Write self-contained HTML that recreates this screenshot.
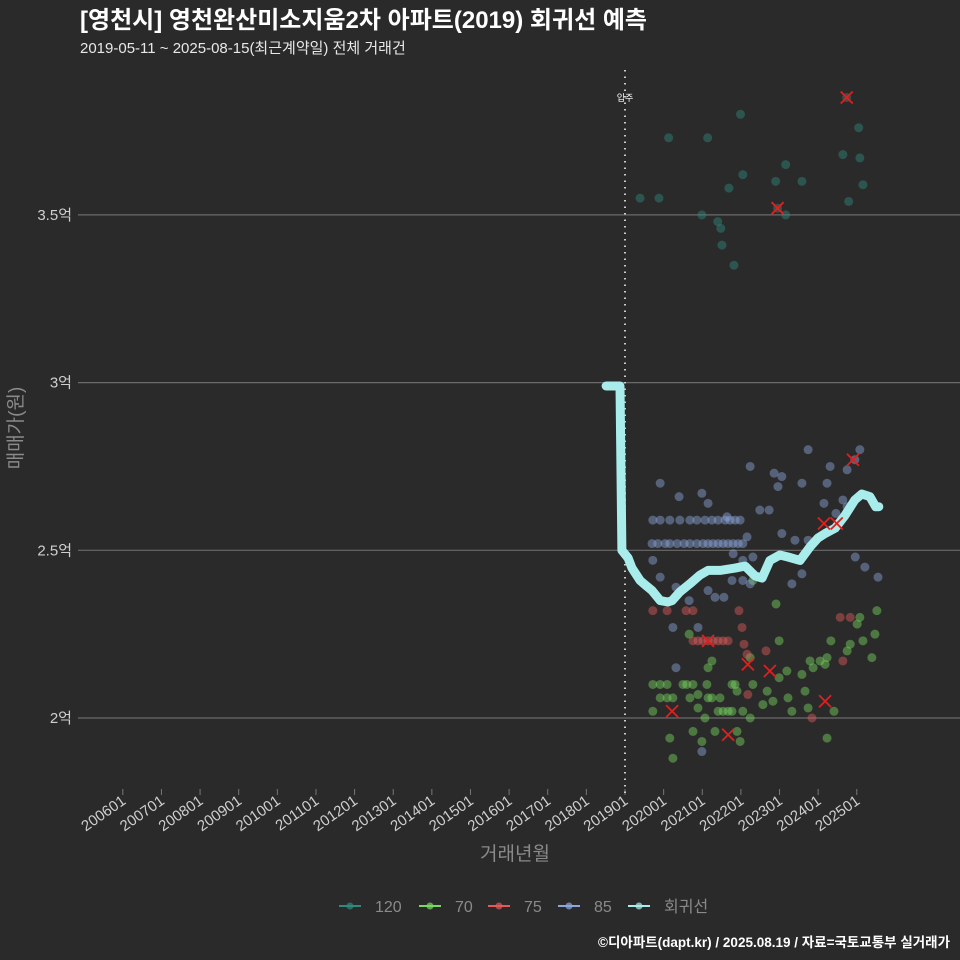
<!DOCTYPE html>
<html><head><meta charset="utf-8">
<style>
html,body{margin:0;padding:0;background:#2a2a2a;}
svg{display:block;font-family:"Liberation Sans","Noto Sans CJK KR",sans-serif;}
</style></head>
<body>
<svg id="chart" width="960" height="960" viewBox="0 0 960 960" xmlns="http://www.w3.org/2000/svg">
<rect width="960" height="960" fill="#2a2a2a"/>
<text x="80" y="28" fill="#ffffff" font-size="24" font-weight="bold">[영천시] 영천완산미소지움2차 아파트(2019) 회귀선 예측</text>
<text x="80" y="53" fill="#e8e8e8" font-size="15">2019-05-11 ~ 2025-08-15(최근계약일) 전체 거래건</text>
<g id="grid"></g>
<g id="yaxis"></g>
<g id="xaxis"></g>
<g id="points"></g>
<g id="regline"></g>
<g id="xmarks"></g>
<text transform="translate(22,428) rotate(-90)" text-anchor="middle" fill="#8a8a8a" font-size="19">매매가(원)</text>
<text x="515" y="860" text-anchor="middle" fill="#8a8a8a" font-size="19">거래년월</text>
<g id="legend"></g>
<text x="950" y="947" text-anchor="end" fill="#ffffff" font-size="13.5" font-weight="bold">©디아파트(dapt.kr) / 2025.08.19 / 자료=국토교통부 실거래가</text>
</svg>
<script>
const yTicks = [2, 2.5, 3, 3.5];
const yTickLabels = ["2억", "2.5억", "3억", "3.5억"];
const xTickYears = [2006,2007,2008,2009,2010,2011,2012,2013,2014,2015,2016,2017,2018,2019,2020,2021,2022,2023,2024,2025];
const xTickLabels = ["200601","200701","200801","200901","201001","201101","201201","201301","201401","201501","201601","201701","201801","201901","202001","202101","202201","202301","202401","202501"];
const moveInYear = 2019;
const series120 = [[2019.39,3.55],[2019.88,3.55],[2020.13,3.73],[2021.14,3.73],[2021.99,3.80],[2020.99,3.50],[2021.40,3.48],[2021.48,3.46],[2021.51,3.41],[2021.82,3.35],[2022.05,3.62],[2021.69,3.58],[2022.90,3.60],[2023.58,3.60],[2023.16,3.65],[2022.95,3.52],[2023.16,3.50],[2024.64,3.68],[2025.05,3.76],[2025.08,3.67],[2025.16,3.59],[2024.79,3.54],[2024.74,3.85]];
const series70 = [[2019.72,2.10],[2019.91,2.10],[2020.09,2.10],[2020.50,2.10],[2020.60,2.10],[2020.76,2.10],[2021.12,2.10],[2021.77,2.10],[2021.85,2.10],
[2019.91,2.06],[2020.09,2.06],[2020.24,2.06],[2020.68,2.06],[2021.15,2.06],[2021.25,2.06],[2021.46,2.06],
[2019.72,2.02],[2021.41,2.02],[2021.54,2.02],[2021.67,2.02],[2021.77,2.02],[2022.05,2.02],
[2020.24,1.88],[2020.16,1.94],[2020.76,1.96],[2020.99,1.93],[2021.33,1.96],[2021.90,1.96],[2021.98,1.93],[2022.24,2.00],
[2022.91,2.34],[2022.31,2.41],[2022.99,2.23],[2021.15,2.15],[2021.25,2.17],[2022.24,2.18],[2022.99,2.12],[2023.19,2.14],[2023.58,2.13],[2023.79,2.17],[2024.23,2.18],[2024.33,2.23],[2024.75,2.20],[2024.83,2.22],[2025.16,2.23],[2025.47,2.25],[2025.52,2.32],[2025.08,2.30],[2025.39,2.18],[2025.01,2.28],
[2022.68,2.08],[2022.83,2.05],[2023.22,2.06],[2023.66,2.08],[2023.74,2.03],[2024.41,2.02],[2024.23,1.94],[2023.32,2.02],[2022.57,2.04],[2020.89,2.03],[2021.07,2.00],[2021.90,2.08],[2022.31,2.10],[2020.66,2.25],[2020.89,2.07],[2024.18,2.16],[2024.05,2.17],[2023.87,2.15]];
const series75 = [[2019.72,2.32],[2020.09,2.32],[2020.58,2.32],[2020.76,2.32],[2021.95,2.32],[2022.03,2.27],[2022.08,2.22],[2022.16,2.19],[2022.65,2.20],[2024.57,2.30],[2024.83,2.30],[2024.64,2.17],[2023.84,2.00],[2022.18,2.07],
[2020.76,2.23],[2020.89,2.23],[2021.02,2.23],[2021.15,2.23],[2021.28,2.23],[2021.41,2.23],[2021.54,2.23],[2021.67,2.23]];
const series85 = [[2019.72,2.59],[2019.91,2.59],[2020.16,2.59],[2020.42,2.59],[2020.68,2.59],[2020.86,2.59],[2021.07,2.59],[2021.25,2.59],[2021.41,2.59],[2021.59,2.59],[2021.72,2.59],[2021.85,2.59],[2021.98,2.59],
[2019.70,2.52],[2019.85,2.52],[2020.04,2.52],[2020.16,2.52],[2020.35,2.52],[2020.53,2.52],[2020.68,2.52],[2020.86,2.52],[2021.02,2.52],[2021.15,2.52],[2021.28,2.52],[2021.41,2.52],[2021.54,2.52],[2021.67,2.52],[2021.80,2.52],[2021.93,2.52],[2022.05,2.52],
[2019.91,2.70],[2020.40,2.66],[2020.99,2.67],[2021.15,2.64],[2022.24,2.75],[2022.86,2.73],[2023.06,2.72],[2022.96,2.69],[2023.74,2.80],[2023.58,2.70],[2024.23,2.70],[2024.31,2.75],[2024.75,2.74],[2025.08,2.80],[2024.95,2.77],[2024.15,2.64],[2024.46,2.61],[2024.75,2.63],[2024.64,2.65],[2022.49,2.62],[2022.73,2.62],[2023.06,2.55],[2023.40,2.53],[2023.74,2.53],[2024.96,2.48],[2025.21,2.45],[2025.55,2.42],[2019.72,2.47],[2019.91,2.42],[2020.32,2.39],[2019.91,2.35],[2020.66,2.35],[2021.15,2.38],[2021.33,2.36],[2021.56,2.36],[2021.77,2.41],[2022.05,2.41],[2022.24,2.40],[2023.32,2.40],[2023.58,2.43],[2021.80,2.49],[2022.05,2.47],[2022.31,2.48],[2020.24,2.27],[2020.89,2.27],[2020.32,2.15],[2020.99,1.90],[2021.64,2.60],[2022.16,2.54]];
const highlightYears = [2024.74,2022.95,2024.90,2024.48,2024.15,2021.15,2022.18,2022.75,2024.18,2020.22,2021.67];
const highlightValues = [3.85,3.52,2.77,2.58,2.58,2.23,2.16,2.14,2.05,2.02,1.95];
const regYears = [2018.51,2018.87,2018.92,2019.08,2019.18,2019.39,2019.52,2019.70,2019.91,2020.11,2020.22,2020.42,2020.68,2020.94,2021.15,2021.46,2021.85,2022.11,2022.37,2022.55,2022.75,2023.01,2023.22,2023.53,2023.79,2024.00,2024.18,2024.44,2024.70,2024.95,2025.13,2025.34,2025.49,2025.57];
const regValues = [2.99,2.99,2.50,2.477,2.447,2.41,2.397,2.38,2.35,2.346,2.35,2.376,2.40,2.426,2.44,2.44,2.447,2.453,2.423,2.417,2.47,2.486,2.48,2.47,2.51,2.537,2.55,2.566,2.605,2.65,2.668,2.66,2.63,2.63];
const legendLabels = ["120","70","75","85","회귀선"];

const NS = "http://www.w3.org/2000/svg";
const colors = {"120":"#2e8a7c","70":"#78d860","75":"#e05a5a","85":"#8ca6dc","회귀선":"#a8ecec"};
function xScale(yr){ return 625 + (yr - 2019) * 38.63; }
function yScale(v){ return 718 - (v - 2) * 335.4; }
function mk(tag, attrs, parent){ const e=document.createElementNS(NS,tag); for(const k in attrs) e.setAttribute(k,attrs[k]); parent.appendChild(e); return e; }

const grid=document.getElementById('grid'), yaxis=document.getElementById('yaxis');
yTicks.forEach((t,i)=>{
  const l=mk('line',{x1:78,x2:960,y1:yScale(t),y2:yScale(t),stroke:'#6a6a6a','stroke-width':1.2},grid);
  
  
  const tx=mk('text',{x:72,y:yScale(t)+5,'text-anchor':'end',fill:'#cfcfcf','font-size':15},yaxis);
  tx.textContent=yTickLabels[i];
  
  
});
const xaxis=document.getElementById('xaxis');
xTickYears.forEach((yr,i)=>{
  const x=xScale(yr);
  const tk=mk('line',{x1:x,x2:x,y1:789,y2:795,stroke:'#777','stroke-width':1},xaxis);
  
  
  const tx=mk('text',{transform:`translate(${x+4},${803}) rotate(-35)`,'text-anchor':'end',fill:'#cfcfcf','font-size':15},xaxis);
  tx.textContent=xTickLabels[i];
  
  
});
const mx=xScale(moveInYear);
const ml=mk('line',{x1:mx,x2:mx,y1:70,y2:795,stroke:'#cccccc','stroke-width':2,'stroke-dasharray':'1.5,5'},xaxis);


const mt=mk('text',{x:mx,y:101,'text-anchor':'middle',fill:'#ffffff','font-size':9},xaxis);
mt.textContent='입주';



const pts=document.getElementById('points');
[["120",series120],["70",series70],["75",series75],["85",series85]].forEach(([k,arr])=>{
  arr.forEach(p=>{
    const c=mk('circle',{cx:xScale(p[0]),cy:yScale(p[1]),r:4.5,fill:colors[k],'fill-opacity':0.45},pts);
    
    
  });
});
const rg=document.getElementById('regline');
const d=regYears.map((y,i)=>(i?'L':'M')+xScale(y).toFixed(1)+','+yScale(regValues[i]).toFixed(1)).join(' ');
const path=mk('path',{d:d,fill:'none',stroke:colors['회귀선'],'stroke-width':9,'stroke-linecap':'round','stroke-linejoin':'round'},rg);


const xm=document.getElementById('xmarks');
highlightYears.forEach((yr,i)=>{
  const x=xScale(yr), y=yScale(highlightValues[i]);
  const g=mk('path',{d:`M${x-6},${y-6}L${x+6},${y+6}M${x+6},${y-6}L${x-6},${y+6}`,stroke:'#e02020','stroke-width':1.8},xm);
  
  
});
const lg=document.getElementById('legend');
const lx=[350,430,499,569,639];
legendLabels.forEach((lab,i)=>{
  const g=mk('g',{},lg);
  
  
  mk('line',{x1:lx[i]-11,x2:lx[i]+11,y1:906,y2:906,stroke:colors[lab],'stroke-width':2},g);
  mk('circle',{cx:lx[i],cy:906,r:3.5,fill:colors[lab],'fill-opacity':0.7},g);
  const t=mk('text',{x:lx[i]+25,y:912,fill:'#8a8a8a','font-size':16},g);
  t.textContent=lab;
});
</script>
</body></html>
